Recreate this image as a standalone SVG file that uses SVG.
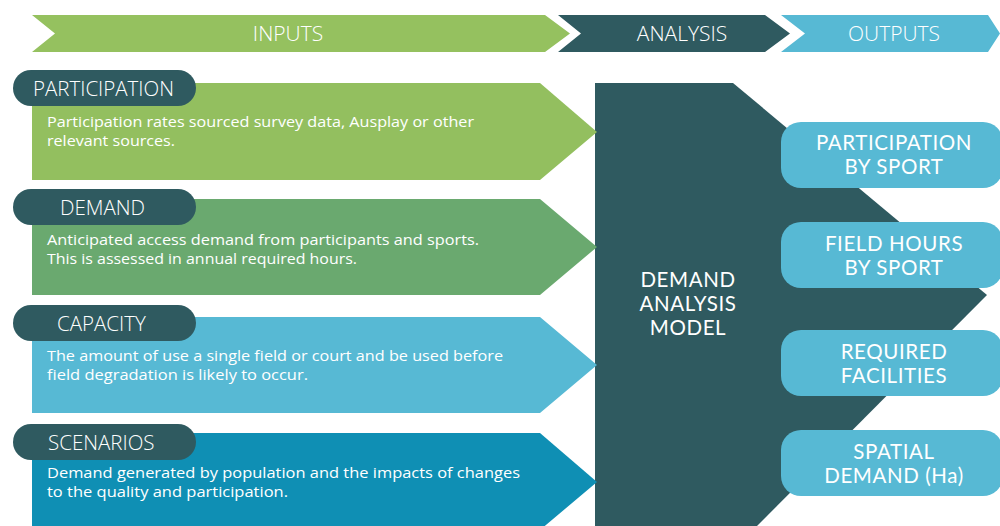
<svg xmlns="http://www.w3.org/2000/svg" width="1000" height="526" viewBox="0 0 1000 526">
<style>
.ban{font-family:"Open Sans",sans-serif;font-weight:300;font-size:21px;fill:#fff;text-anchor:middle}
.lbl{font-family:"Open Sans",sans-serif;font-weight:300;font-size:20.5px;fill:#fff}
.body{font-family:"Open Sans",sans-serif;font-size:15px;fill:#fff}
.out{font-family:Lato,"Open Sans",sans-serif;font-size:20.5px;letter-spacing:0.6px;fill:#fff;text-anchor:middle}
.pill{fill:#2f5a60}
.opill{fill:#57b9d4}
</style>
<rect width="1000" height="526" fill="#fff"/>
<g id="banner">
<polygon points="32,15 545,15 570,33.5 545,52 32,52 55,33.5" fill="#95c15f"/>
<polygon points="558,15 765,15 790,33.5 765,52 558,52 581,33.5" fill="#2f5a60"/>
<polygon points="781,15 988,15 1000,33.5 988,52 781,52 805,33.5" fill="#57b9d4"/>
<text class="ban" x="288" y="41">INPUTS</text>
<text class="ban" x="682" y="41">ANALYSIS</text>
<text class="ban" x="894" y="41">OUTPUTS</text>
</g>
<g id="analysis">
<polygon points="595,83 733,83 987,295 757,526 595,526" fill="#2f5a60"/>
<text class="out" x="688" y="287">DEMAND<tspan x="688" dy="24">ANALYSIS</tspan><tspan x="688" dy="24">MODEL</tspan></text>
</g>
<g id="participation">
<polygon points="32,83 540,83 597,132 540,180 32,180" fill="#93bf5f"/>
<rect class="pill" x="13" y="70" width="183" height="36" rx="18"/>
<text class="lbl" x="33" y="96">PARTICIPATION</text>
<text class="body" x="47" y="127"><tspan textLength="427" lengthAdjust="spacingAndGlyphs">Participation rates sourced survey data, Ausplay or other</tspan><tspan x="47" dy="19" textLength="128" lengthAdjust="spacingAndGlyphs">relevant sources.</tspan></text>
</g>
<g id="demand">
<polygon points="32,199 540,199 597,247 540,295 32,295" fill="#6aa96f"/>
<rect class="pill" x="13" y="189" width="183" height="36" rx="18"/>
<text class="lbl" x="60" y="215">DEMAND</text>
<text class="body" x="47" y="245"><tspan textLength="432" lengthAdjust="spacingAndGlyphs">Anticipated access demand from participants and sports.</tspan><tspan x="47" dy="19" textLength="310" lengthAdjust="spacingAndGlyphs">This is assessed in annual required hours.</tspan></text>
</g>
<g id="capacity">
<polygon points="32,317 540,317 597,365 540,413 32,413" fill="#57b9d4"/>
<rect class="pill" x="13" y="305" width="183" height="36" rx="18"/>
<text class="lbl" x="57" y="331">CAPACITY</text>
<text class="body" x="47" y="361"><tspan textLength="456" lengthAdjust="spacingAndGlyphs">The amount of use a single field or court and be used before</tspan><tspan x="47" dy="19" textLength="261" lengthAdjust="spacingAndGlyphs">field degradation is likely to occur.</tspan></text>
</g>
<g id="scenarios">
<polygon points="32,433 540,433 597,482 540,530 32,530" fill="#0f8fb4"/>
<rect class="pill" x="13" y="424" width="183" height="36" rx="18"/>
<text class="lbl" x="48" y="450">SCENARIOS</text>
<text class="body" x="47" y="478"><tspan textLength="473" lengthAdjust="spacingAndGlyphs">Demand generated by population and the impacts of changes</tspan><tspan x="47" dy="19" textLength="241" lengthAdjust="spacingAndGlyphs">to the quality and participation.</tspan></text>
</g>
<g id="out-participation">
<rect class="opill" x="781" y="122" width="222" height="66" rx="20"/>
<text class="out" x="894" y="150">PARTICIPATION<tspan x="894" dy="24">BY SPORT</tspan></text>
</g>
<g id="out-fieldhours">
<rect class="opill" x="781" y="222" width="222" height="66" rx="20"/>
<text class="out" x="894" y="251">FIELD HOURS<tspan x="894" dy="24">BY SPORT</tspan></text>
</g>
<g id="out-facilities">
<rect class="opill" x="781" y="330" width="222" height="66" rx="20"/>
<text class="out" x="894" y="359">REQUIRED<tspan x="894" dy="24">FACILITIES</tspan></text>
</g>
<g id="out-spatial">
<rect class="opill" x="781" y="430" width="222" height="66" rx="20"/>
<text class="out" x="894" y="459">SPATIAL<tspan x="894" dy="24">DEMAND (Ha)</tspan></text>
</g>
<g id="connectors"></g>
</svg>
